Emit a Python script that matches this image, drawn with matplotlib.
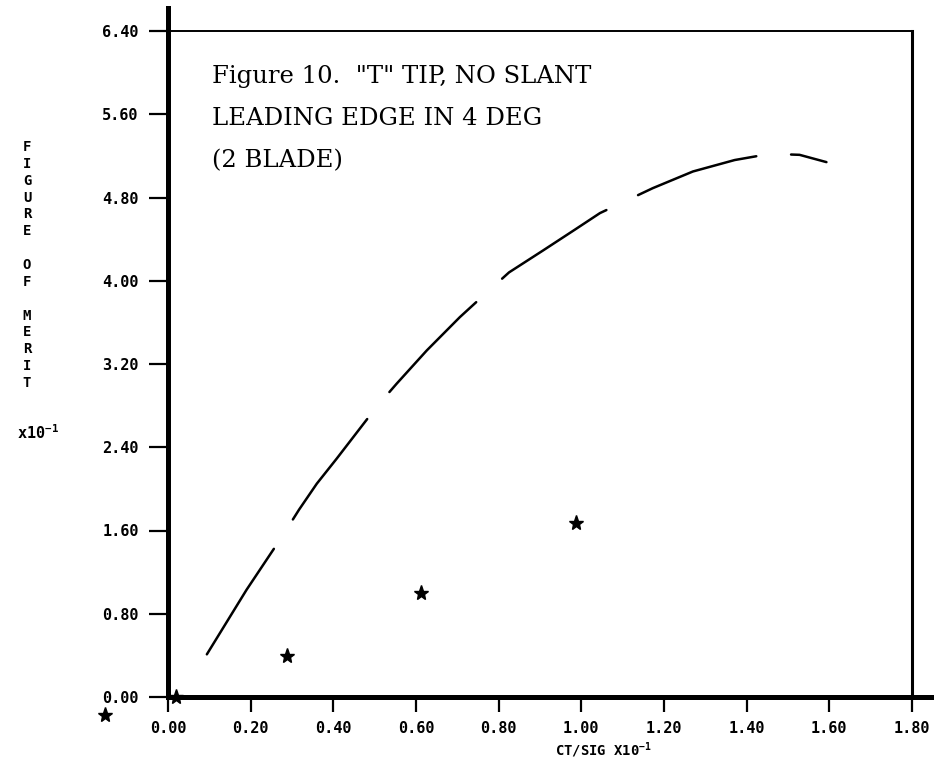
import numpy as np
import matplotlib
matplotlib.use('Agg')
import matplotlib.pyplot as plt

plt.rcParams['mathtext.fontset'] = 'custom'
plt.rcParams['mathtext.rm'] = 'DejaVu Sans Mono:bold'
plt.rcParams['mathtext.default'] = 'rm'

# faired curve (CT/SIG x10^-1, FM x10^-1)
curve_x = [0.094, 0.190, 0.279, 0.317, 0.360, 0.408, 0.505, 0.553, 0.626, 0.706,
           0.750, 0.825, 0.907, 0.984, 1.045, 1.173, 1.270, 1.371, 1.457, 1.528, 1.593]
curve_y = [0.41, 1.03, 1.56, 1.80, 2.05, 2.29, 2.79, 3.01, 3.33, 3.65,
           3.81, 4.08, 4.29, 4.49, 4.65, 4.89, 5.05, 5.16, 5.22, 5.21, 5.14]

# test points
pts_x = [-0.152, 0.02, 0.287, 0.613, 0.988]
pts_y = [-0.17, 0.0, 0.39, 1.00, 1.67]

xticks = [0.0, 0.2, 0.4, 0.6, 0.8, 1.0, 1.2, 1.4, 1.6, 1.8]
yticks = [0.0, 0.8, 1.6, 2.4, 3.2, 4.0, 4.8, 5.6, 6.4]
xticklabels = ['0.00', '0.20', '0.40', '0.60', '0.80', '1.00', '1.20', '1.40', '1.60', '1.80']
yticklabels = ['0.00', '0.80', '1.60', '2.40', '3.20', '4.00', '4.80', '5.60', '6.40']

W, H = 940, 776
fig = plt.figure(figsize=(W / 100, H / 100), dpi=100)
ax = fig.add_axes([168 / W, 79 / H, 744 / W, 666 / H])

ax.plot(curve_x, curve_y, color='black', lw=1.8, linestyle=(0, (50, 14)),
        solid_capstyle='round', dash_capstyle='round', solid_joinstyle='round')
ax.plot(pts_x, pts_y, linestyle='none', marker='*', ms=11, color='black',
        clip_on=False)

ax.set_xlim(0, 1.8)
ax.set_ylim(0, 6.4)
ax.set_xticks(xticks)
ax.set_yticks(yticks)
ax.set_xticklabels(xticklabels)
ax.set_yticklabels(yticklabels)
for lab in ax.get_xticklabels() + ax.get_yticklabels():
    lab.set_family('DejaVu Sans Mono')
    lab.set_weight('bold')
    lab.set_fontsize(11)

ax.tick_params(axis='x', direction='out', length=11, width=1.6, pad=6)
ax.tick_params(axis='y', direction='out', length=14, width=1.6, pad=7)

ax.spines['left'].set_linewidth(3.6)
ax.spines['bottom'].set_linewidth(3.6)
ax.spines['top'].set_linewidth(1.4)
ax.spines['right'].set_linewidth(2.2)
ax.spines['left'].set_bounds(0, 6.62)
ax.spines['bottom'].set_bounds(0, 1.845)

fig.text(212 / W, 1 - 65 / H,
         'Figure 10.  "T" TIP, NO SLANT\nLEADING EDGE IN 4 DEG\n(2 BLADE)',
         family='DejaVu Serif', fontsize=17.5, linespacing=2.05,
         ha='left', va='top')

fig.text(27 / W, 1 - 140 / H,
         'F\nI\nG\nU\nR\nE\n\nO\nF\n\nM\nE\nR\nI\nT',
         family='DejaVu Sans Mono', weight='bold', fontsize=10,
         linespacing=1.26, ha='center', va='top')
fig.text(38 / W, 1 - 433 / H, r'x10$^{-1}$',
         family='DejaVu Sans Mono', weight='bold', fontsize=11,
         ha='center', va='center')
fig.text(603 / W, 1 - 750 / H, r'CT/SIG X10$^{-1}$',
         family='DejaVu Sans Mono', weight='bold', fontsize=10,
         ha='center', va='center')

fig.savefig('out.png', dpi=100, facecolor='white')
